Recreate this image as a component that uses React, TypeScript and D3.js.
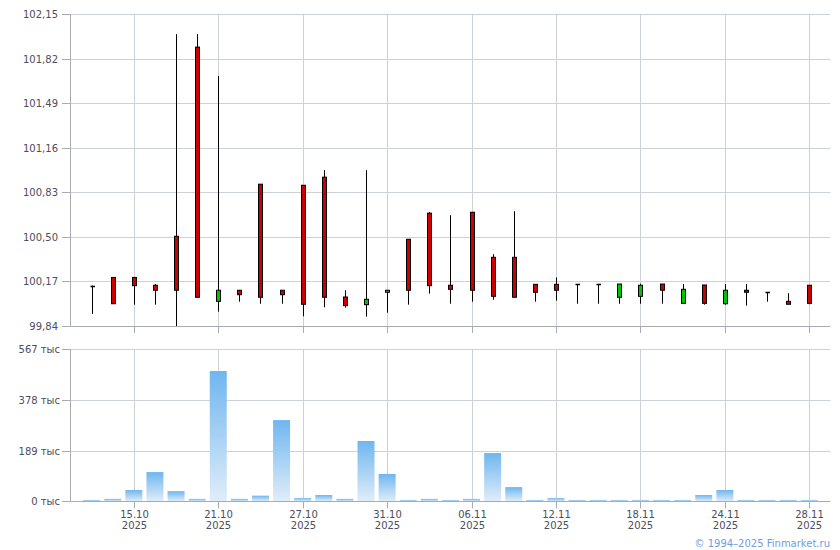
import React from "react";
import * as d3 from "d3";

const dates = ["13.10","14.10","15.10","16.10","17.10","20.10","21.10","22.10","23.10","24.10","27.10","28.10","29.10","30.10","31.10","01.11","03.11","05.11","06.11","07.11","10.11","11.11","12.11","13.11","14.11","17.11","18.11","19.11","20.11","21.11","24.11","25.11","26.11","27.11","28.11"];
const openV = [100.14,100.2,100.2,100.142,100.505,101.907,100.023,100.105,100.891,100.105,100.883,100.943,100.055,99.998,100.09,100.483,100.676,100.142,100.683,100.349,100.349,100.149,100.149,100.149,100.151,100.053,100.06,100.151,100.008,100.144,100.005,100.105,100.09,100.023,100.142];
const highV = [100.14,100.2,100.2,100.151,102.003,102.003,101.694,100.105,100.891,100.105,100.883,100.995,100.105,100.995,100.105,100.483,100.685,100.661,100.683,100.372,100.691,100.149,100.2,100.149,100.151,100.151,100.154,100.151,100.151,100.144,100.151,100.151,100.09,100.083,100.142];
const lowV = [99.93,100.005,99.998,99.998,99.84,100.053,99.946,100.02,100.005,100.005,99.912,99.979,99.976,99.909,99.939,99.998,100.08,100.005,100.02,100.035,100.053,100.02,100.028,100.005,100.005,100.005,100.005,100.005,100.008,99.998,99.998,99.991,100.02,100.001,100.001];
const closeV = [100.14,100.005,100.139,100.105,100.105,100.053,100.105,100.072,100.053,100.072,100.001,100.053,99.991,100.038,100.105,100.105,100.139,100.112,100.105,100.06,100.053,100.09,100.105,100.149,100.151,100.151,100.142,100.105,100.112,100.008,100.105,100.09,100.09,100.001,100.008];
const volumeK = [5,9,42,109,38,9,486,9,21,303,12,23.5,9,225,102,5,9,5,9,180,53,5,12,5,5,5,5,5,5,23.5,42,5,5,5,5];
const priceTicks = [99.84,100.17,100.5,100.83,101.16,101.49,101.82,102.15];
const volumeTicks = [0,189,378,567];
const labelIdx = [2,6,10,14,18,22,26,30,34];
const labelYear = "2025";

const L = 70.5, R = 830.4;
const pTop = 14.3, pBot = 326;
const vTop = 349.3, vBot = 501.3;
const GRID = "#cdd2d7";
const AXIS = "#a8acb2";
const TXT = "#4d4d5c";
const FONT = "'DejaVu Sans', Verdana, sans-serif";

export default function App() {
  const x = d3.scaleLinear().domain([-1, 35]).range([L, R]);
  const y = d3.scaleLinear().domain([99.84, 102.15]).range([pBot, pTop]);
  const yv = d3.scaleLinear().domain([0, 567]).range([vBot, vTop]);
  const cx = (i: number) => Math.round(x(i)) + 0.5;
  const bw = 3;
  const vbw = 17;
  const fmt = (v: number) => v.toFixed(2).replace(".", ",");

  return (
    <svg width={840} height={550} style={{ position: "absolute", left: 0, top: 0, background: "#fff" }} fontFamily={FONT}>
      <defs>
        <linearGradient id="vg" x1="0" y1="0" x2="0" y2="1">
          <stop offset="0" stopColor="#6fb6ef" />
          <stop offset="1" stopColor="#e0edf9" />
        </linearGradient>
      </defs>
      {/* price grid */}
      {priceTicks.map((t) => {
        const yy = Math.round(y(t)) + 0.5;
        return (
          <g key={"pt" + t}>
            {t !== 99.84 && <line x1={L} x2={R} y1={yy} y2={yy} stroke={GRID} />}
            <line x1={62} x2={L} y1={yy} y2={yy} stroke={AXIS} />
            <text x={58} y={yy} dy="0.35em" textAnchor="end" fontSize={10} fill={TXT}>{fmt(t)}</text>
          </g>
        );
      })}
      {labelIdx.map((i) => (
        <g key={"pg" + i}>
          <line x1={cx(i)} x2={cx(i)} y1={pTop} y2={pBot} stroke={GRID} />
          <line x1={cx(i)} x2={cx(i)} y1={pBot} y2={pBot + 7} stroke={AXIS} />
        </g>
      ))}
      <line x1={L} x2={L} y1={pTop} y2={pBot} stroke={AXIS} />
      <line x1={L} x2={R} y1={Math.round(pBot) + 0.5} y2={Math.round(pBot) + 0.5} stroke={AXIS} />
      {/* candles */}
      {dates.map((d, i) => {
        const o = openV[i], c = closeV[i], h = highV[i], l = lowV[i];
        const xx = cx(i);
        const top = y(Math.max(o, c));
        const bot = y(Math.min(o, c));
        const up = c > o;
        const flat = Math.abs(bot - top) < 1;
        return (
          <g key={"c" + d}>
            <line x1={xx} x2={xx} y1={y(h)} y2={y(l)} stroke="#000" strokeWidth={1} />
            {flat ? (
              <line x1={xx - 2} x2={xx + 2.5} y1={Math.round(top) + 0.5} y2={Math.round(top) + 0.5} stroke="#000" strokeWidth={1.5} />
            ) : (
              <rect x={xx - bw / 2 - 0.5} y={top} width={bw + 1} height={bot - top} fill={up ? "#00c400" : "#cc0000"} stroke="#000" strokeWidth={1} />
            )}
          </g>
        );
      })}
      {/* volume grid */}
      {volumeTicks.map((t) => {
        const yy = Math.round(yv(t)) + 0.5;
        return (
          <g key={"vt" + t}>
            {t !== 0 && <line x1={L} x2={R} y1={yy} y2={yy} stroke={GRID} />}
            <line x1={62} x2={L} y1={yy} y2={yy} stroke={AXIS} />
            <text x={60} y={yy} dy="0.35em" textAnchor="end" fontSize={10} fill={TXT}>{t + " тыс"}</text>
          </g>
        );
      })}
      {labelIdx.map((i) => (
        <g key={"vg" + i}>
          <line x1={cx(i)} x2={cx(i)} y1={vTop} y2={vBot} stroke={GRID} />
        </g>
      ))}
      {volumeK.map((v, i) => (
        <rect key={"v" + i} x={x(i) - vbw / 2} y={yv(v)} width={vbw} height={vBot - yv(v)} fill="url(#vg)" />
      ))}
      <line x1={L} x2={L} y1={vTop} y2={vBot} stroke={AXIS} />
      <line x1={L} x2={R} y1={Math.round(vBot) + 0.5} y2={Math.round(vBot) + 0.5} stroke={AXIS} />
      {labelIdx.map((i) => (
        <g key={"vl" + i}>
          <line x1={cx(i)} x2={cx(i)} y1={vBot} y2={vBot + 7} stroke={AXIS} />
          <text x={cx(i)} y={514} dy="0.35em" textAnchor="middle" fontSize={10} fill={TXT}>{dates[i]}</text>
          <text x={cx(i)} y={525.5} dy="0.35em" textAnchor="middle" fontSize={10} fill={TXT}>{labelYear}</text>
        </g>
      ))}
      <text x={830} y={543} dy="0.35em" textAnchor="end" fontSize={10} fill="#6e9ddc">© 1994–2025 Finmarket.ru</text>
    </svg>
  );
}
